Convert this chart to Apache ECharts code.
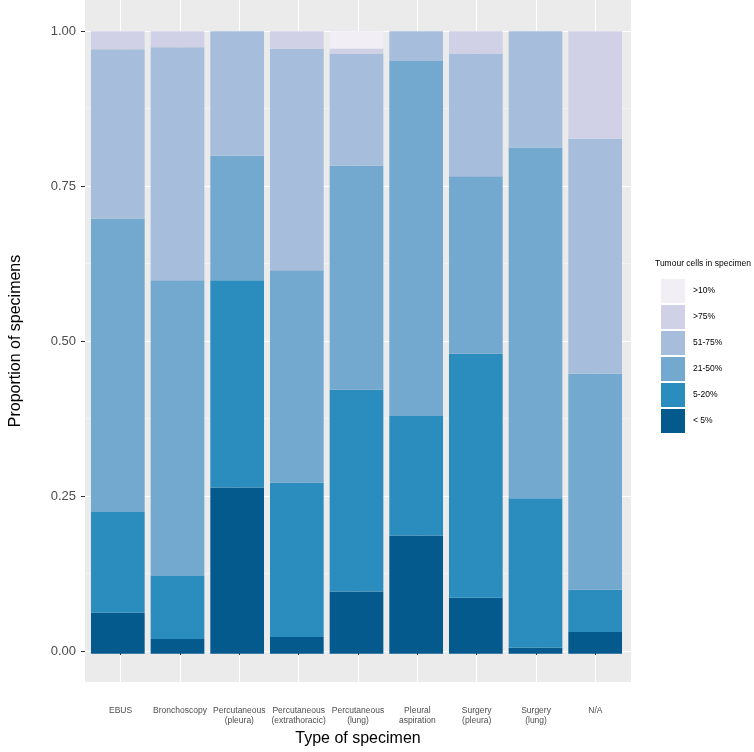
<!DOCTYPE html>
<html>
<head>
<meta charset="utf-8">
<script src="https://cdn.jsdelivr.net/npm/echarts@6/dist/echarts.min.js"></script>
<style>
  html, body { margin: 0; padding: 0; background: #fff; }
  #chart { width: 754px; height: 752px; }
</style>
</head>
<body>
<div id="chart"></div>
<script>
const categories = ['EBUS', 'Bronchoscopy', 'Percutaneous\n(pleura)', 'Percutaneous\n(extrathoracic)',
  'Percutaneous\n(lung)', 'Pleural\naspiration', 'Surgery\n(pleura)', 'Surgery\n(lung)', 'N/A']

const lt5    = [0.066, 0.024, 0.267, 0.027, 0.100, 0.190, 0.090, 0.010, 0.035]
const p5_20  = [0.162, 0.101, 0.333, 0.248, 0.324, 0.192, 0.392, 0.240, 0.068]
const p21_50 = [0.471, 0.475, 0.200, 0.341, 0.360, 0.570, 0.285, 0.563, 0.347]
const p51_75 = [0.272, 0.374, 0.200, 0.356, 0.180, 0.048, 0.197, 0.187, 0.377]
const gt75   = [0.029, 0.026, 0.000, 0.028, 0.008, 0.000, 0.036, 0.000, 0.173]
const gt10   = [0.000, 0.000, 0.000, 0.000, 0.028, 0.000, 0.000, 0.000, 0.000]

const groupNames = ['< 5%', '5-20%', '21-50%', '51-75%', '>75%', '>10%']
const groupValues = [lt5, p5_20, p21_50, p51_75, gt75, gt10]
const groupColors = ['#045a8d', '#2b8cbe', '#74a9cf', '#a6bddb', '#d0d1e6', '#f1eef6']

const yTicks = [0, 0.25, 0.5, 0.75, 1]
const yMinor = [0.125, 0.375, 0.625, 0.875]
const xPos = categories.map((c, i) => i + 1)

const font = 'Liberation Sans'
const chart = echarts.init(document.getElementById('chart'))

// grid 0 = the grey ggplot panel (with its 0.6 / 5% expansion), grid 1 = where the bars sit
chart.setOption({
  animation: false,
  textStyle: { fontFamily: font },
  grid: [
    { left: 82, right: 123, top: 0, bottom: 67, show: true, backgroundColor: '#ebebeb', borderWidth: 0 },
    { left: 88, right: 129, top: 0, bottom: 67 },
  ],
  legend: {
    orient: 'vertical',
    left: 656,
    top: 274,
    itemWidth: 24,
    itemHeight: 24,
    itemGap: 2,
    icon: 'rect',
    data: groupNames.slice().reverse(),
    textStyle: { fontSize: 8.5, color: '#000', padding: [0, 0, 0, 3] },
  },
  graphic: [{
    type: 'text',
    left: 655,
    top: 259,
    style: { text: 'Tumour cells in specimen', fontSize: 8.5, fill: '#000', fontFamily: font },
  }],
  xAxis: [
    {
      type: 'value',
      gridIndex: 0,
      min: 0.4,
      max: 9.6,
      name: 'Type of specimen',
      nameLocation: 'middle',
      nameGap: 49,
      nameTextStyle: { fontSize: 16, color: '#000' },
      axisLine: { show: false },
      axisTick: { show: true, length: 4, customValues: xPos, lineStyle: { color: '#333' } },
      axisLabel: {
        customValues: xPos,
        formatter: v => categories[Math.round(v) - 1],
        fontSize: 8.5,
        lineHeight: 10,
        color: '#4d4d4d',
        margin: 24,
      },
      splitLine: { show: true, lineStyle: { color: '#fff', width: 1.1 } },
    },
    {
      type: 'category',
      gridIndex: 1,
      data: categories,
      show: false,
    },
  ],
  yAxis: [
    {
      type: 'value',
      gridIndex: 0,
      min: -0.05,
      max: 1.05,
      name: 'Proportion of specimens',
      nameLocation: 'middle',
      nameGap: 61,
      nameTextStyle: { fontSize: 16, color: '#000' },
      axisLine: { show: false },
      axisTick: { show: true, length: 4, customValues: yTicks, lineStyle: { color: '#333' } },
      axisLabel: {
        customValues: yTicks,
        formatter: v => v.toFixed(2),
        fontSize: 13,
        color: '#4d4d4d',
        margin: 9,
      },
      splitLine: { show: true, lineStyle: { color: '#fff', width: 1.1 } },
    },
    {
      type: 'value',
      gridIndex: 0,
      min: -0.05,
      max: 1.05,
      axisLine: { show: false },
      axisTick: { show: false, customValues: yMinor },
      axisLabel: { show: false, customValues: yMinor },
      splitLine: { show: true, lineStyle: { color: '#f6f6f6', width: 0.7 } },
    },
    {
      type: 'value',
      gridIndex: 1,
      min: -0.05,
      max: 1.05,
      show: false,
      splitLine: { show: false },
    },
  ],
  series: groupNames.map((name, k) => ({
    name,
    type: 'bar',
    stack: 'total',
    xAxisIndex: 1,
    yAxisIndex: 2,
    barWidth: '90%',
    itemStyle: { color: groupColors[k] },
    data: groupValues[k],
  })),
})
</script>
</body>
</html>
